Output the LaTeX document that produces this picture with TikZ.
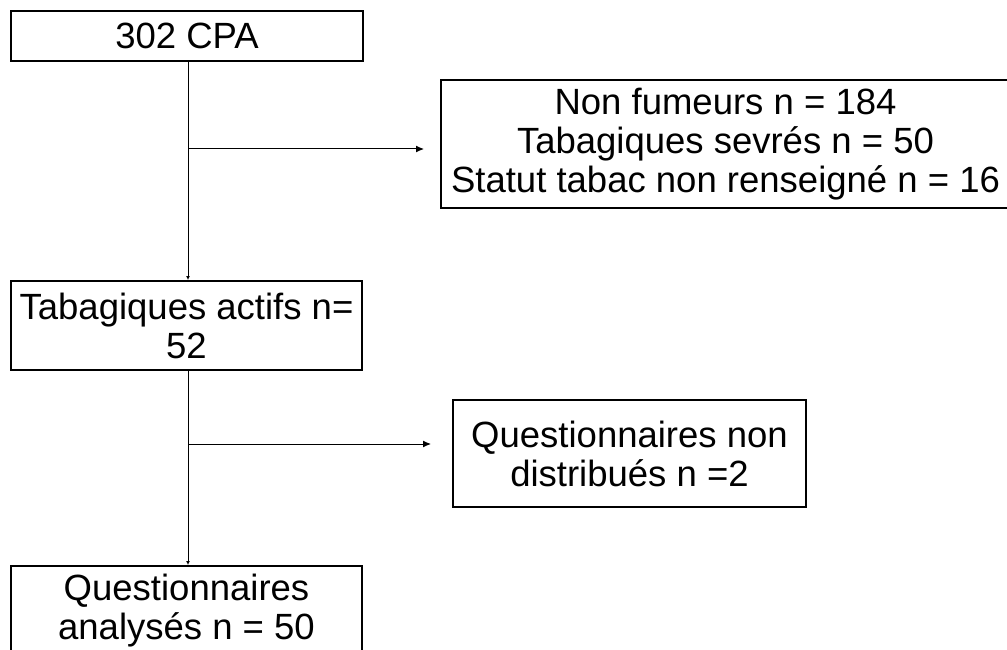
\documentclass[tikz,border=0pt]{standalone}
\usepackage{fontspec}
\setmainfont{Liberation Sans}
\usetikzlibrary{arrows.meta}

\begin{document}
\begin{tikzpicture}[x=1pt, y=-1pt]
        \clip (0,0) rectangle (1007,650);
        \useasboundingbox (0,0) rectangle (1007,650);

        \begin{scope}[
            box/.style={draw=black, line width=2pt, rectangle, inner sep=0pt,
                        align=center, font=\fontsize{36.5}{39}\selectfont}]
            \node[box, minimum width=352pt, minimum height=50pt] (cpa) at (187, 36) {302 CPA};
            \node[box, minimum width=569pt, minimum height=128pt] (excl1) at (725.5, 144)
                {Non fumeurs n = 184\\Tabagiques sevrés n = 50\\Statut tabac non renseigné n = 16};
            \node[box, minimum width=351pt, minimum height=89pt] (actifs) at (186.5, 325.5)
                {Tabagiques actifs n=\\52};
            \node[box, minimum width=353pt, minimum height=107pt] (excl2) at (629.5, 453.5)
                {Questionnaires non\\distribués n =2};
            \node[box, minimum width=351pt, minimum height=90pt] (quest) at (186.5, 611)
                {Questionnaires\\analysés n = 50};
        \end{scope}

        \coordinate (j1) at (188, 149);
        \coordinate (j2) at (188, 444);

        \begin{scope}[
            every edge/.style={draw=black, line width=1pt}]
            \path [-{Latex[length=4pt, width=4pt]}] (cpa.south -| j1) edge (actifs.north -| j1);
            \path [-{Latex[length=4pt, width=4pt]}] (actifs.south -| j2) edge (quest.north -| j2);
            \path [-{Latex[length=8pt, width=7pt]}, shorten >=16pt] (j1) edge (j1 -| excl1.west);
            \path [-{Latex[length=8pt, width=7pt]}, shorten >=21pt] (j2) edge (j2 -| excl2.west);
        \end{scope}

        \end{tikzpicture}
\end{document}
